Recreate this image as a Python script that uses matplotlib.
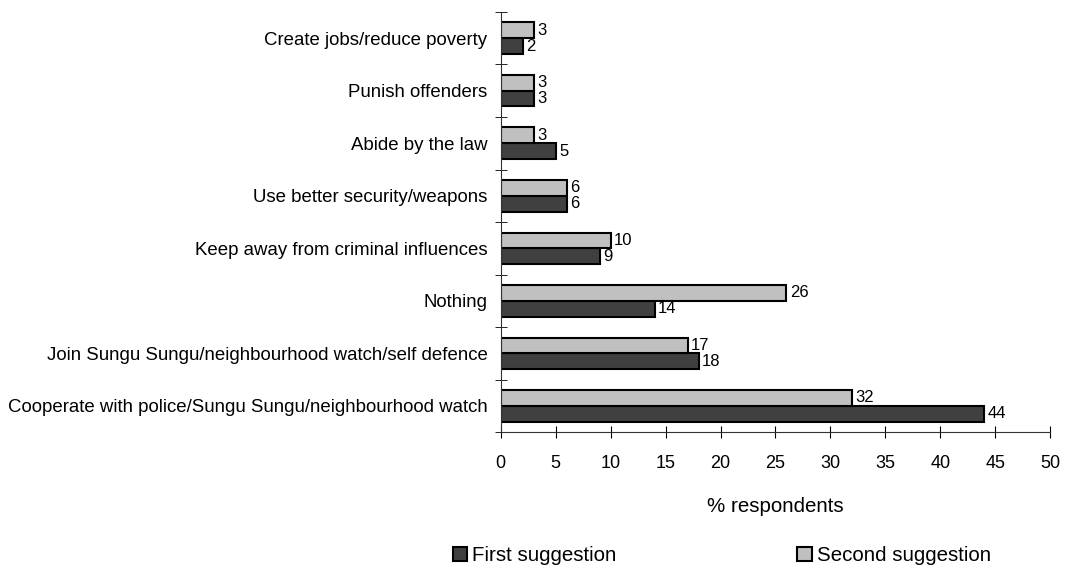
import numpy as np
import matplotlib.pyplot as plt
from matplotlib.patches import Patch

plt.rcParams['font.family'] = ['Liberation Sans', 'DejaVu Sans']

# 建议类别（自下而上）
categories = [
    'Cooperate with police/Sungu Sungu/neighbourhood watch',
    'Join Sungu Sungu/neighbourhood watch/self defence',
    'Nothing',
    'Keep away from criminal influences',
    'Use better security/weapons',
    'Abide by the law',
    'Punish offenders',
    'Create jobs/reduce poverty',
]
first = [44, 18, 14, 9, 6, 5, 3, 2]
second = [32, 17, 26, 10, 6, 3, 3, 3]
xticks = [0, 5, 10, 15, 20, 25, 30, 35, 40, 45, 50]

dark = '#404040'
light = '#c0c0c0'

fig = plt.figure(figsize=(10.77, 5.70), dpi=100)
ax = fig.add_axes([0.465, 0.242, 0.51, 0.737])

y = np.arange(len(categories))
h = 0.3
ax.barh(y - h / 2, first, height=h, color=dark, edgecolor='black', linewidth=1.5)
ax.barh(y + h / 2, second, height=h, color=light, edgecolor='black', linewidth=1.5)

for yi, v in zip(y, first):
    ax.text(v + 0.3, yi - h / 2, str(v), va='center', ha='left', fontsize=12)
for yi, v in zip(y, second):
    ax.text(v + 0.3, yi + h / 2, str(v), va='center', ha='left', fontsize=12)

ax.set_xlim(0, 50)
ax.set_ylim(-0.5, len(categories) - 0.5)
ax.set_xticks(xticks)
ax.set_xticklabels([str(t) for t in xticks], fontsize=13)
ax.tick_params(axis='x', direction='inout', length=8.5, pad=12)

# 类别标签放在组中心，刻度线放在组边界
ax.set_yticks(y)
ax.set_yticklabels(categories, fontsize=13.4)
ax.tick_params(axis='y', length=0, pad=9.5)
ax.set_yticks(np.arange(len(categories) + 1) - 0.5, minor=True)
ax.tick_params(axis='y', which='minor', direction='inout', length=8)

for s in ['top', 'right']:
    ax.spines[s].set_visible(False)
ax.spines['left'].set_color('#333333')
ax.spines['bottom'].set_color('#333333')

ax.set_xlabel('% respondents', fontsize=14.8, labelpad=18)

handles = [Patch(facecolor=dark, edgecolor='black', linewidth=1.5),
           Patch(facecolor=light, edgecolor='black', linewidth=1.5)]
fig.legend(handles, ['First suggestion', 'Second suggestion'], loc='center left',
           bbox_to_anchor=(0.403, 0.0246), ncol=2, frameon=False, fontsize=14.8,
           handlelength=0.7, handleheight=0.7, handletextpad=0.25,
           columnspacing=8.8)

fig.savefig('out.png', dpi=100)
